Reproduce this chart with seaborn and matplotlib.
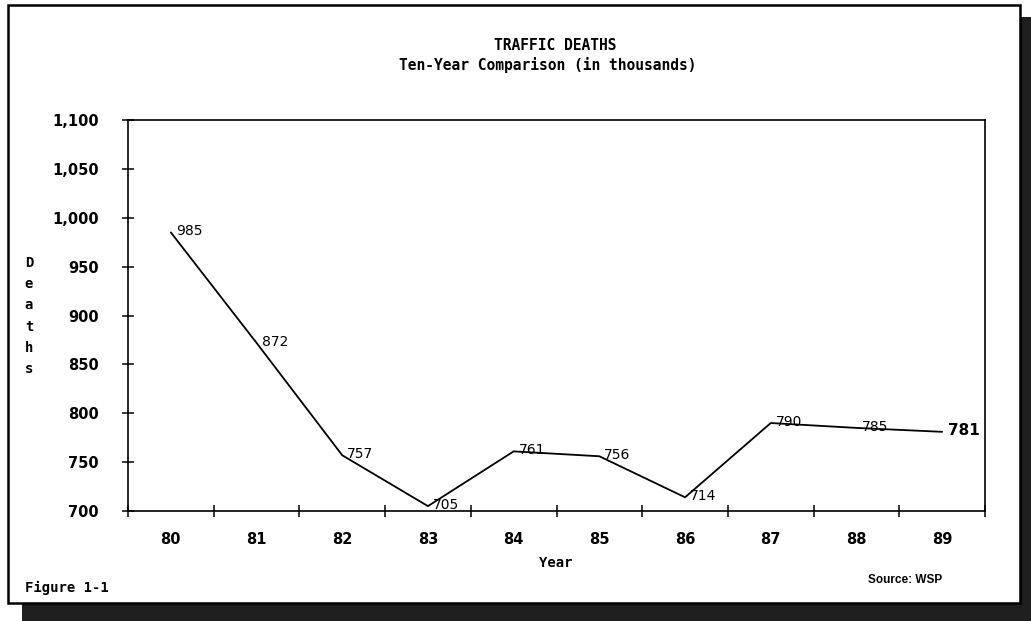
import numpy as np
import pandas as pd
import matplotlib
matplotlib.use("Agg")
import matplotlib.pyplot as plt
from matplotlib.patches import Rectangle
from matplotlib.ticker import FuncFormatter, FixedLocator
import seaborn as sns

# Traffic deaths (thousands), 1980-1989
years = ["80", "81", "82", "83", "84", "85", "86", "87", "88", "89"]
deaths = [985, 872, 757, 705, 761, 756, 714, 790, 785, 781]
y_ticks = [700, 750, 800, 850, 900, 950, 1000, 1050, 1100]

W, H = 1031, 621
DPI = 100

sns.set_theme(style="white")
plt.rcParams["font.family"] = ["DejaVu Sans"]
plt.rcParams["text.color"] = "black"

fig = plt.figure(figsize=(W / DPI, H / DPI), dpi=DPI, facecolor="white")


def fx(px):
    return px / W


def fy(py):
    return 1 - py / H


# page with drop shadow
fig.patches.append(Rectangle((fx(22), fy(621)), fx(1031 - 22), (621 - 17) / H,
                             transform=fig.transFigure, facecolor="#1e1e1e",
                             edgecolor="none", zorder=-3))
fig.patches.append(Rectangle((fx(8), fy(603)), fx(1020 - 8), (603 - 5) / H,
                             transform=fig.transFigure, facecolor="white",
                             edgecolor="black", linewidth=1.8, zorder=-2))

ax = fig.add_axes([fx(128), fy(511), fx(985 - 128), (511 - 120) / H])
ax.set_facecolor("white")

df = pd.DataFrame({"pos": np.arange(len(years)), "deaths": deaths})
sns.lineplot(data=df, x="pos", y="deaths", ax=ax, color="black",
             linewidth=1.3, sort=False)

ax.set_xlim(-0.5, len(years) - 0.5)
ax.set_ylim(min(y_ticks), max(y_ticks))

# y axis
ax.yaxis.set_major_locator(FixedLocator(y_ticks))
ax.yaxis.set_major_formatter(FuncFormatter(lambda v, p: f"{int(v):,}"))
ax.tick_params(axis="y", which="major", direction="inout", length=8,
               width=1.1, color="black", pad=17, labelsize=10.5,
               left=True)

# x axis: labels centred on each year, ticks between years
ax.set_xticks(np.arange(len(years)))
ax.set_xticklabels(years)
ax.xaxis.set_minor_locator(FixedLocator(np.arange(len(years) + 1) - 0.5))
ax.tick_params(axis="x", which="major", length=0, pad=15, labelsize=10.5)
ax.tick_params(axis="x", which="minor", direction="inout", length=8,
               width=1.1, color="black", bottom=True)

for lab in ax.get_xticklabels() + ax.get_yticklabels():
    lab.set_fontweight("bold")
    lab.set_color("black")

for sp in ax.spines.values():
    sp.set_visible(True)
    sp.set_color("black")
    sp.set_linewidth(1.2)

ax.set_xlabel("")
ax.set_ylabel("")

# value labels beside each point
for i, v in enumerate(deaths):
    last = i == len(deaths) - 1
    ax.annotate(str(v), (i, v), xytext=(6 if last else 5, 1),
                textcoords="offset pixels", ha="left", va="center",
                fontsize=11 if last else 10,
                fontweight="bold" if last else "normal",
                color="black", annotation_clip=False)

# titles and captions
mono = ["DejaVu Sans Mono"]
fig.text(fx(555), fy(45), "TRAFFIC DEATHS", ha="center", va="center",
         fontsize=10.5, fontweight="bold", family=mono, color="black")
fig.text(fx(548), fy(65), "Ten-Year Comparison (in thousands)", ha="center",
         va="center", fontsize=10.5, fontweight="bold", family=mono,
         color="black")
fig.text(fx(29), fy(316), "D\ne\na\nt\nh\ns", ha="center", va="center",
         fontsize=10, fontweight="bold", family=mono, linespacing=1.65,
         color="black")
fig.text(fx(556), fy(563), "Year", ha="center", va="center",
         fontsize=10, fontweight="bold", family=mono, color="black")
fig.text(fx(25), fy(588), "Figure 1-1", ha="left", va="center",
         fontsize=10, fontweight="bold", family=mono, color="black")
fig.text(fx(942), fy(580), "Source: WSP", ha="right", va="center",
         fontsize=8.5, fontweight="bold", family=["Liberation Sans"],
         color="black")

fig.savefig("out.png", dpi=DPI, facecolor="white")
